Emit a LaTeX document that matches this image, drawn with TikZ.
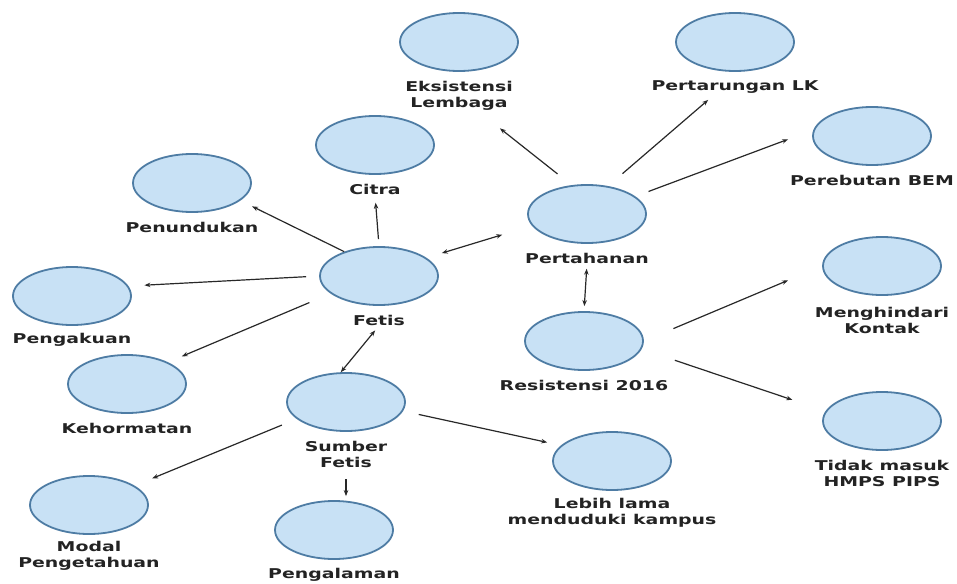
\documentclass[tikz,border=0pt]{standalone}
\usepackage{fontspec}
\newfontfamily\lblfont{DejaVu Sans}[FakeStretch=1.4]
\usetikzlibrary{arrows.meta,shapes.geometric,positioning}
\definecolor{ellfill}{RGB}{200,225,245}
\definecolor{elledge}{RGB}{78,124,164}
\definecolor{linkcol}{RGB}{40,40,40}
\definecolor{txtcol}{RGB}{35,35,35}

\begin{document}
\begin{tikzpicture}[x=1pt,y=-1pt,
    >={Stealth[length=6pt,width=4.5pt]},
    konsep/.style={ellipse,draw=elledge,fill=ellfill,line width=1.8pt,
      minimum width=118pt,minimum height=58pt,inner sep=0pt},
    ket/.style={inner sep=0pt,align=center,text=txtcol,
      font=\lblfont\bfseries\fontsize{13.5}{16.5}\selectfont},
    link/.style={draw=linkcol,line width=1.2pt}]
  \useasboundingbox[fill=white] (0,0) rectangle (957,583);

  \node[konsep] (eks) at (459,42) {};
  \node[ket,below=9pt of eks] (eks-t) {Eksistensi\\Lembaga};
  \node[konsep] (lk) at (735,42) {};
  \node[ket,below=9pt of lk] (lk-t) {Pertarungan LK};
  \node[konsep] (citra) at (375,145) {};
  \node[ket,below=9pt of citra] (citra-t) {Citra};
  \node[konsep] (pen) at (192,183) {};
  \node[ket,below=9pt of pen] (pen-t) {Penundukan};
  \node[konsep] (bem) at (872,136) {};
  \node[ket,below=9pt of bem] (bem-t) {Perebutan BEM};
  \node[konsep] (pert) at (587,214) {};
  \node[ket,below=9pt of pert] (pert-t) {Pertahanan};
  \node[konsep] (fetis) at (379,276) {};
  \node[ket,below=9pt of fetis] (fetis-t) {Fetis};
  \node[konsep] (akui) at (72,296) {};
  \node[ket,below=7pt of akui] (akui-t) {Pengakuan};
  \node[konsep] (res) at (584,341) {};
  \node[ket,below=9pt of res] (res-t) {Resistensi 2016};
  \node[konsep] (hindar) at (882,266) {};
  \node[ket,below=11pt of hindar] (hindar-t) {Menghindari\\Kontak};
  \node[konsep] (hormat) at (127,384) {};
  \node[ket,below=9pt of hormat] (hormat-t) {Kehormatan};
  \node[konsep] (sumber) at (346,402) {};
  \node[ket,below=9pt of sumber] (sumber-t) {Sumber\\Fetis};
  \node[konsep] (tidak) at (882,421) {};
  \node[ket,below=9pt of tidak] (tidak-t) {Tidak masuk\\HMPS PIPS};
  \node[konsep] (lebih) at (612,461) {};
  \node[ket,below=7pt of lebih] (lebih-t) {Lebih lama\\menduduki kampus};
  \node[konsep] (modal) at (89,505) {};
  \node[ket,below=6pt of modal] (modal-t) {Modal\\Pengetahuan};
  \node[konsep] (alam) at (334,530) {};
  \node[ket,below=8pt of alam] (alam-t) {Pengalaman};

  \draw[link,->,shorten <=7pt,shorten >=8pt] (fetis.north) -- (citra-t.south);
  \draw[link,->,shorten >=13pt] (fetis.145) -- (pen.-20);
  \draw[link,->,shorten <=13pt,shorten >=16pt] (fetis.west) -- (akui.10);
  \draw[link,->,shorten <=23pt,shorten >=15pt] (fetis.200) -- (hormat.28);
  \draw[link,<->,shorten <=16pt,shorten >=31pt] (fetis.21) -- (pert.192);
  \draw[link,<->,shorten <=6pt] (fetis-t.south) -- (sumber.100);
  \draw[link,<->,shorten <=5pt,shorten >=5pt] (pert-t.south) -- (res.north);
  \draw[link,->,shorten <=18pt,shorten >=28pt] (pert.118) -- (eks-t);
  \draw[link,->,shorten <=19pt,shorten >=9pt] (pert.53) -- ([xshift=-20pt]lk-t.south);
  \draw[link,->,shorten <=14pt,shorten >=27pt] (pert.20) -- (bem.174);
  \draw[link,->,shorten <=32pt,shorten >=37pt] (res.east) -- (hindar.west);
  \draw[link,->,shorten <=35pt,shorten >=35pt] (res.-8) -- (tidak.170);
  \draw[link,->,shorten <=16pt,shorten >=19pt] (sumber.199) -- (modal.23);
  \draw[link,->,shorten <=11pt,shorten >=4pt] (sumber-t.south) -- (sumber-t.south |- alam.north);
  \draw[link,->,shorten <=16pt,shorten >=14pt] (sumber.-9) -- (lebih.163);
\end{tikzpicture}
\end{document}
